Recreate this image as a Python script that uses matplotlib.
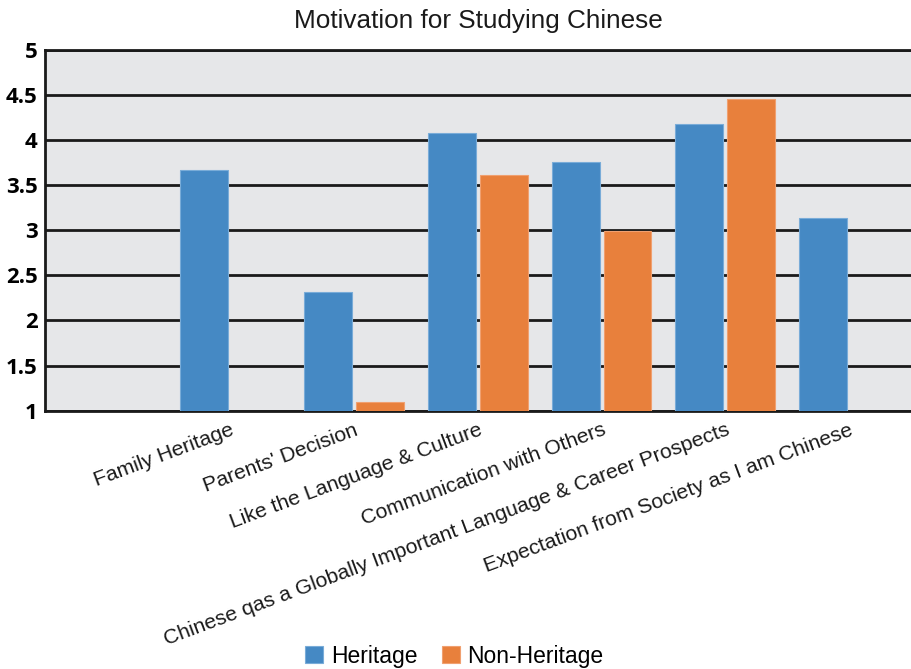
import numpy as np
import matplotlib.pyplot as plt

plt.rcParams["font.family"] = ["Liberation Sans", "DejaVu Sans"]

# 动机类别与两组平均分
categories = [
    "Family Heritage",
    "Parents' Decision",
    "Like the Language & Culture",
    "Communication with Others",
    "Chinese qas a Globally Important Language & Career Prospects",
    "Expectation from Society as I am Chinese",
]
heritage = [3.67, 2.31, 4.08, 3.75, 4.17, 3.13]
non_heritage = [np.nan, 1.10, 3.61, 2.99, 4.45, np.nan]
yticks = [1, 1.5, 2, 2.5, 3, 3.5, 4, 4.5, 5]

blue = "#4589c4"
orange = "#e8803c"
base = 1.0

fig = plt.figure(figsize=(9.11, 6.69), dpi=100)
ax = fig.add_axes([0.049, 0.386, 0.951, 0.540])
ax.set_facecolor("#e6e7e9")

x = np.arange(len(categories))
w = 0.387
gap = 0.016
h = np.array(heritage) - base
n = np.array(non_heritage) - base
ax.bar(x - gap - w / 2, h, w, bottom=base, color=blue, edgecolor="#79acd8",
       linewidth=0.8, label="Heritage", zorder=3)
ax.bar(x + gap + w / 2, n, w, bottom=base, color=orange, edgecolor="#f0a070",
       linewidth=0.8, label="Non-Heritage", zorder=3)

ax.set_ylim(1, 5)
ax.set_xlim(-1.5, 5.5)
ax.set_yticks(yticks)
ax.set_yticklabels([f"{v:g}" for v in yticks], fontweight="bold", fontsize=16,
                   family=["Open Sans", "DejaVu Sans"])
ax.tick_params(axis="y", length=0, pad=5)
ax.yaxis.grid(True, color="#1a1a1a", linewidth=2, zorder=1)
ax.set_axisbelow(True)

ax.set_xticks(x)
ax.set_xticklabels(categories, rotation=20.5, ha="right", va="top",
                   rotation_mode="anchor", fontsize=15.2, color="#1a1a1a")
ax.tick_params(axis="x", length=0, pad=7)

for side in ["left", "top", "bottom"]:
    ax.spines[side].set_color("#1a1a1a")
    ax.spines[side].set_linewidth(2)
ax.spines["right"].set_visible(False)

fig.text(0.525, 0.968, "Motivation for Studying Chinese", ha="center",
         va="center", fontsize=18.8, color="#1a1a1a")

fig.legend(loc="center", bbox_to_anchor=(0.499, 0.019), ncol=2, frameon=False,
           fontsize=16.5, handlelength=0.75, handleheight=0.75, handletextpad=0.35,
           columnspacing=1.1)

fig.savefig("out.png", dpi=100)
